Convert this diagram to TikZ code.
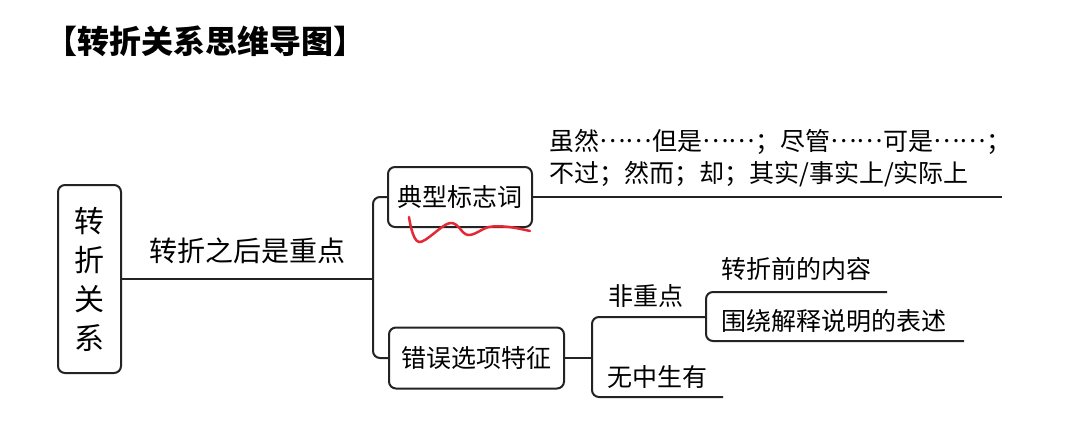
\documentclass[tikz,border=0pt]{standalone}
\usepackage{fontspec}
\setmainfont{Noto Sans CJK SC}
\usepackage{tikz}
\usetikzlibrary{positioning}
\definecolor{linegray}{RGB}{35,35,35}
\definecolor{markred}{RGB}{228,40,52}
\newcommand{\middots}{\raisebox{0.3em}{……}}
\tikzset{
    topic/.style={draw=linegray, line width=2pt, rounded corners=7pt, inner sep=0pt, align=center},
    branch/.style={draw=linegray, line width=2pt, rounded corners=7pt},
    leaf/.style={inner sep=0pt, anchor=west, font=\fontsize{25}{32}\selectfont}
}

\begin{document}
\begin{tikzpicture}[x=1pt, y=-1pt]
    \useasboundingbox (0,0) rectangle (1076,423);
    \node[anchor=west, inner sep=0pt, font=\fontsize{32}{32}\selectfont\bfseries] (title) at (45,41) {【转折关系思维导图】};

    \node[topic, minimum width=63, minimum height=188, font=\fontsize{30}{39}\selectfont] (root) at (89.5,279) {转\\折\\关\\系};
    \node[topic, minimum width=144, minimum height=60, font=\fontsize{25}{30}\selectfont] (signal) at (460,197) {典型标志词};
    \node[topic, minimum width=175, minimum height=61, font=\fontsize{25}{30}\selectfont] (wrong) at (476.5,358) {错误选项特征};

    \coordinate (j1) at (373,279);
    \coordinate (j2) at (592,358);
    \coordinate (j3) at (706,317);
    \coordinate (endsignal) at (1002,197);
    \coordinate (endbefore) at (887,292);
    \coordinate (endaround) at (964,341);
    \coordinate (endnothing) at (723,397);

    \draw[branch] (root.east) -- (j1);
    \draw[branch] (signal.west) -| (j1) |- (wrong.west);
    \draw[branch] (signal.east) -- (endsignal);
    \draw[branch] (wrong.east) -- (j2);
    \draw[branch] (j3) -| (j2) |- (endnothing);
    \draw[branch] (endbefore) -| (j3) |- (endaround);

    \node[inner sep=0pt, font=\fontsize{28}{28}\selectfont] (keypoint) at (247,251) {转折之后是重点};
    \node[leaf, align=left] (words) at (549,158) {虽然\middots 但是\middots ；尽管\middots 可是\middots ；\\不过；然而；却；其实/事实上/实际上};
    \node[leaf] (minor) at (608,296) {非重点};
    \node[leaf] (before) at (721,269) {转折前的内容};
    \node[leaf] (around) at (721,321) {围绕解释说明的表述};
    \node[leaf] (nothing) at (607,377) {无中生有};

    \draw[markred, line width=2.5pt, line cap=round] plot[smooth, tension=0.6] coordinates {(409,217) (419,242) (450,223) (468,235) (489,227) (509,227) (530,231)};
\end{tikzpicture}
\end{document}
